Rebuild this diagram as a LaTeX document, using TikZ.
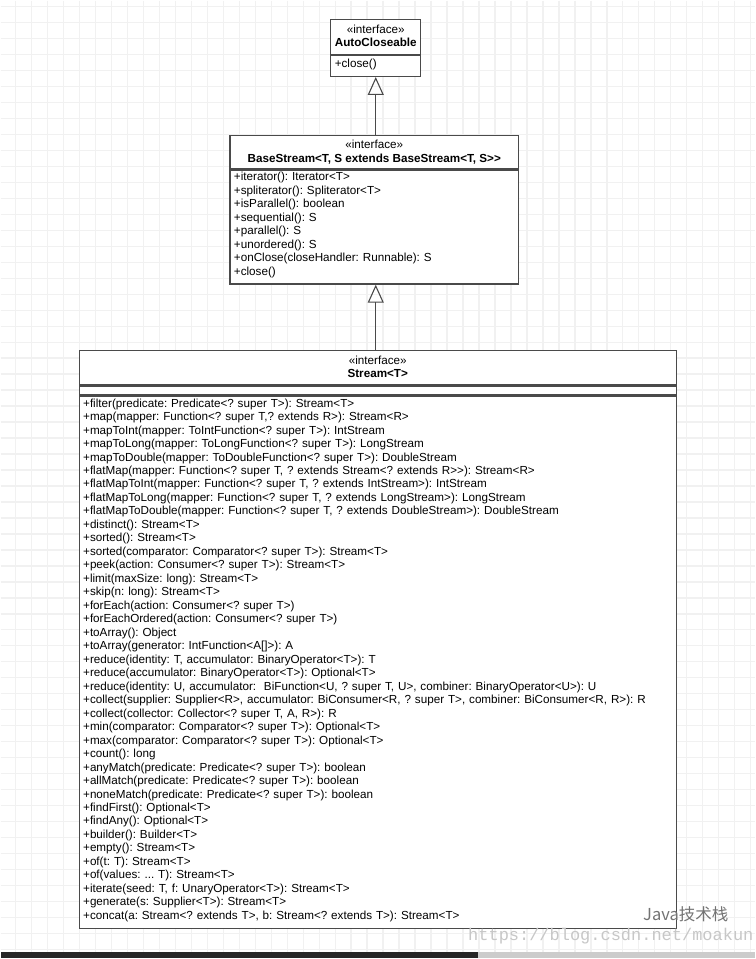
\documentclass[tikz,border=0pt]{standalone}
\usepackage{fontspec}
\setmainfont{Liberation Sans}
\newfontfamily\cjkfont{Noto Sans CJK SC}
\newfontfamily\urlfont{Liberation Mono}
\usetikzlibrary{arrows.meta,positioning}
\definecolor{boxline}{HTML}{4A4A4A}
\definecolor{gridgray}{HTML}{F1F1F1}
\newcommand{\umlfont}{\fontsize{11.7}{13.5}\selectfont\frenchspacing}

\begin{document}
\begin{tikzpicture}[x=1pt, y=-1pt,
    head/.style={draw=boxline, line width=1.2pt, fill=white, align=center, inner sep=0pt, text depth=2pt, font=\umlfont},
    attrs/.style={draw=boxline, line width=1.2pt, fill=white, inner sep=0pt},
    ops/.style={draw=boxline, line width=1.2pt, fill=white, align=left, inner xsep=4pt, inner ysep=0pt, font=\umlfont},
    realize/.style={-{Triangle[open, length=18pt, width=16pt]}, line width=1.1pt, draw=boxline},
    gridline/.style={draw=gridgray, line width=1.4pt},
    watermark/.style={inner sep=0pt}
]
    % background grid
    \fill[white] (0,0) rectangle (755,959);
    \foreach \gx in {15,31,...,751} \draw[gridline] (\gx,0) -- (\gx,959);
    \foreach \gy in {6,22,...,954} \draw[gridline] (0,\gy) -- (755,\gy);

    % AutoCloseable
    \node[head, anchor=north west, minimum width=90pt, minimum height=35pt] (acHead) at (330,18)
        {«interface»\\\textbf{AutoCloseable}};
    \node[ops, text width=82pt, text depth=6pt, minimum height=21pt, below=0pt of acHead] (acOps) {+close()};

    % BaseStream
    \node[head, anchor=north west, minimum width=289pt, minimum height=34pt] (bsHead) at (229,134)
        {«interface»\\\textbf{BaseStream<T, S extends BaseStream<T, S>{}>}};
    \node[ops, text width=281pt, text depth=101pt, minimum height=114pt, below=0pt of bsHead] (bsOps)
        {+iterator(): Iterator<T>\\
         +spliterator(): Spliterator<T>\\
         +isParallel(): boolean\\
         +sequential(): S\\
         +parallel(): S\\
         +unordered(): S\\
         +onClose(closeHandler: Runnable): S\\
         +close()};

    % Stream
    \node[head, anchor=north west, minimum width=598pt, minimum height=34pt] (stHead) at (78,350)
        {«interface»\\\textbf{Stream<T>}};
    \node[attrs, minimum width=598pt, minimum height=9pt, below=0pt of stHead] (stAttrs) {};
    \node[ops, text width=590pt, text depth=519.5pt, minimum height=533pt, below=0pt of stAttrs] (stOps)
        {+filter(predicate: Predicate<? super T>): Stream<T>\\
         +map(mapper: Function<? super T,? extends R>): Stream<R>\\
         +mapToInt(mapper: ToIntFunction<? super T>): IntStream\\
         +mapToLong(mapper: ToLongFunction<? super T>): LongStream\\
         +mapToDouble(mapper: ToDoubleFunction<? super T>): DoubleStream\\
         +flatMap(mapper: Function<? super T, ? extends Stream<? extends R>{}>): Stream<R>\\
         +flatMapToInt(mapper: Function<? super T, ? extends IntStream>): IntStream\\
         +flatMapToLong(mapper: Function<? super T, ? extends LongStream>): LongStream\\
         +flatMapToDouble(mapper: Function<? super T, ? extends DoubleStream>): DoubleStream\\
         +distinct(): Stream<T>\\
         +sorted(): Stream<T>\\
         +sorted(comparator: Comparator<? super T>): Stream<T>\\
         +peek(action: Consumer<? super T>): Stream<T>\\
         +limit(maxSize: long): Stream<T>\\
         +skip(n: long): Stream<T>\\
         +forEach(action: Consumer<? super T>)\\
         +forEachOrdered(action: Consumer<? super T>)\\
         +toArray(): Object\\
         +toArray(generator: IntFunction<A[]>): A\\
         +reduce(identity: T, accumulator: BinaryOperator<T>): T\\
         +reduce(accumulator: BinaryOperator<T>): Optional<T>\\
         +reduce(identity: U, accumulator: \ BiFunction<U, ? super T, U>, combiner: BinaryOperator<U>): U\\
         +collect(supplier: Supplier<R>, accumulator: BiConsumer<R, ? super T>, combiner: BiConsumer<R, R>): R\\
         +collect(collector: Collector<? super T, A, R>): R\\
         +min(comparator: Comparator<? super T>): Optional<T>\\
         +max(comparator: Comparator<? super T>): Optional<T>\\
         +count(): long\\
         +anyMatch(predicate: Predicate<? super T>): boolean\\
         +allMatch(predicate: Predicate<? super T>): boolean\\
         +noneMatch(predicate: Predicate<? super T>): boolean\\
         +findFirst(): Optional<T>\\
         +findAny(): Optional<T>\\
         +builder(): Builder<T>\\
         +empty(): Stream<T>\\
         +of(t: T): Stream<T>\\
         +of(values: ... T): Stream<T>\\
         +iterate(seed: T, f: UnaryOperator<T>): Stream<T>\\
         +generate(s: Supplier<T>): Stream<T>\\
         +concat(a: Stream<? extends T>, b: Stream<? extends T>): Stream<T>};

    % generalisation arrows
    \draw[realize] (bsHead.north -| acOps.south) -- (acOps.south);
    \draw[realize] (stHead.north -| acOps.south) -- (bsOps.south -| acOps.south);

    % watermark and bottom strip
    \node[watermark, text=black!55, font=\cjkfont\fontsize{16.5}{18}\selectfont] (wmName) at (686,915) {Java技术栈};
    \node[watermark, text=black!22, font=\urlfont\fontsize{17}{18}\selectfont] (wmUrl) at (611,937) {https://blog.csdn.net/moakun};
    \fill[black!85] (0,953) rectangle (478,959);
    \fill[black!20] (478,953) rectangle (755,959);
\end{tikzpicture}
\end{document}
